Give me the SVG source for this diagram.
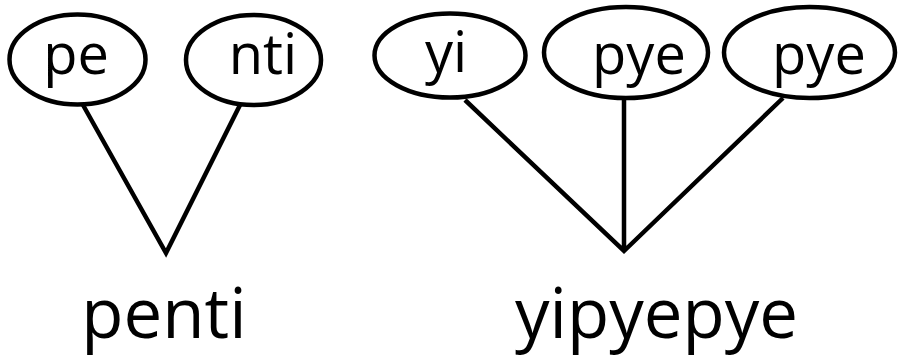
<svg xmlns="http://www.w3.org/2000/svg" width="900" height="359" viewBox="0 0 900 359">
<style>
.node ellipse{fill:#fff;stroke:#000;stroke-width:4.5}
.lbl{font-family:"Open Sans","Noto Sans",sans-serif;font-size:56px;fill:#000;text-anchor:middle}
.word{font-family:"Open Sans","Noto Sans",sans-serif;font-size:69px;fill:#000;text-anchor:middle}
.conn{fill:none;stroke:#000;stroke-width:4.5;stroke-linejoin:miter;stroke-miterlimit:10}
</style>
<rect width="900" height="359" fill="#fff"/>
<g id="connectors">
<path class="conn" d="M83,105 L166,253 L241,103"/>
<path class="conn" d="M465,100 L624,251 L783,98 M624,97 L624,251"/>
</g>
<g id="node-pe" class="node"><ellipse cx="77.5" cy="59.5" rx="68" ry="45"/><text class="lbl" x="76" y="74">pe</text></g>
<g id="node-nti" class="node"><ellipse cx="253.5" cy="60" rx="67.5" ry="45"/><text class="lbl" x="263" y="74">nti</text></g>
<g id="node-yi" class="node"><ellipse cx="450" cy="55.5" rx="75.5" ry="42"/><text class="lbl" x="446" y="72">yi</text></g>
<g id="node-pye1" class="node"><ellipse cx="626" cy="52.5" rx="82" ry="45.5"/><text class="lbl" x="639" y="74">pye</text></g>
<g id="node-pye2" class="node"><ellipse cx="809.5" cy="52.5" rx="85.5" ry="45.5"/><text class="lbl" x="819" y="74">pye</text></g>
<g id="word-penti"><text class="word" x="164" y="338">penti</text></g>
<g id="word-yipyepye"><text class="word" x="656.5" y="338">yipyepye</text></g>
</svg>
